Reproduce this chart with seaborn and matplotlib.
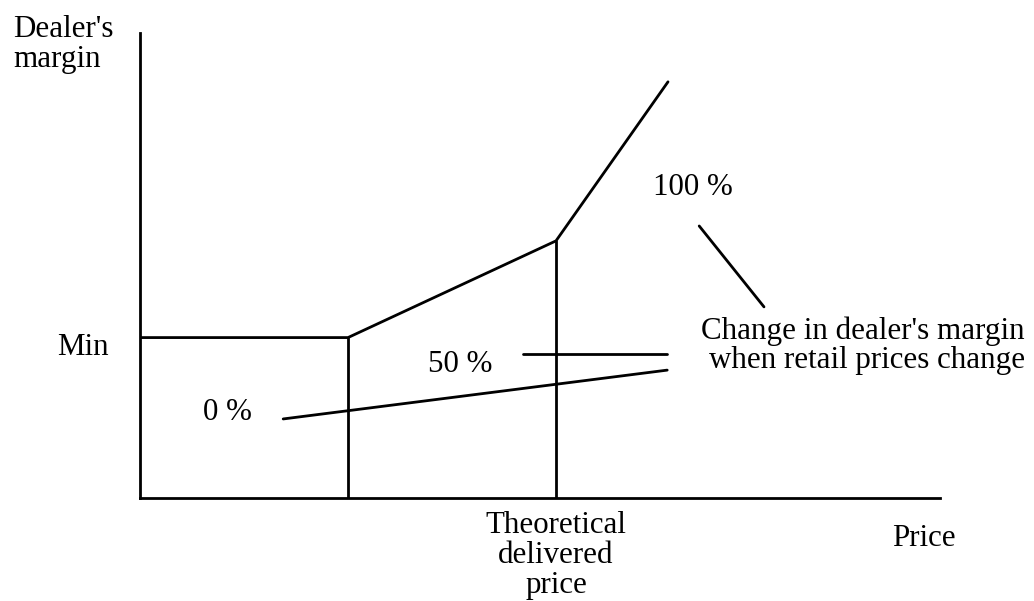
import pandas as pd
import matplotlib
matplotlib.use("Agg")
import matplotlib.pyplot as plt
import seaborn as sns

# Margin schedule (price, dealer's margin), axes scaled 0..100
price_knots = [0, 26, 52, 66]
margin_knots = [34.5, 34.5, 55.3, 89.5]
min_margin = 34.5
theoretical_price = 52

# Pointer lines from the caption to the three slopes
ptr_100_x = [69.9, 78.0]
ptr_100_y = [58.5, 41.1]
ptr_50_x = [47.9, 65.9]
ptr_50_y = [31.0, 31.0]
ptr_0_x = [17.9, 65.9]
ptr_0_y = [17.0, 27.5]

slope_labels = ["0 %", "50 %", "100 %"]
slope_label_x = [7.9, 36.0, 64.1]
slope_label_y = [16.8, 27.1, 65.2]

# segments table for seaborn
rows = []
for px, my in zip(price_knots, margin_knots):
    rows.append(("schedule", px, my))
for px, my in zip(price_knots[1:3], margin_knots[1:3]):
    rows.append((f"drop{px}", px, 0))
    rows.append((f"drop{px}", px, my))
for name, xs, ys in [("p100", ptr_100_x, ptr_100_y),
                     ("p50", ptr_50_x, ptr_50_y),
                     ("p0", ptr_0_x, ptr_0_y)]:
    for px, my in zip(xs, ys):
        rows.append((name, px, my))
df = pd.DataFrame(rows, columns=["seg", "price", "margin"])

sns.set_theme(style="white")
plt.rcParams['font.family'] = ['Liberation Serif', 'DejaVu Serif']

fig = plt.figure(figsize=(10.34, 6.01), dpi=100)
ax = fig.add_axes([140 / 1034, 103 / 601, 800 / 1034, 465 / 601])

sns.lineplot(data=df, x="price", y="margin", units="seg", estimator=None,
             sort=False, color="black", linewidth=2, ax=ax)

ax.set_xlim(0, 100)
ax.set_ylim(0, 100)
ax.set_xticks([])
ax.set_yticks([])
ax.set_xlabel("")
ax.set_ylabel("")
for side in ["top", "right"]:
    ax.spines[side].set_visible(False)
for side in ["left", "bottom"]:
    ax.spines[side].set_color("black")
    ax.spines[side].set_linewidth(2)

fs = 22.3
kw = dict(fontsize=fs, color="black", clip_on=False)

for lab, lx, ly in zip(slope_labels, slope_label_x, slope_label_y):
    ax.text(lx, ly, lab, ha="left", va="baseline", **kw)

ax.text(-3.9, 30.8, "Min", ha="right", va="baseline", **kw)
ax.text(-15.9, 97.5, "Dealer's\nmargin", ha="left", va="center",
        linespacing=1.03, **kw)
ax.text(110.6, 34.2, "Change in dealer's margin", ha="right", va="baseline", **kw)
ax.text(110.6, 28.0, "when retail prices change", ha="right", va="baseline", **kw)
ax.text(94, -10.3, "Price", ha="left", va="baseline", **kw)
ax.text(theoretical_price, -2.9, "Theoretical\ndelivered\nprice", ha="center",
        va="top", linespacing=1.03, **kw)

fig.savefig("out.png", dpi=100)
